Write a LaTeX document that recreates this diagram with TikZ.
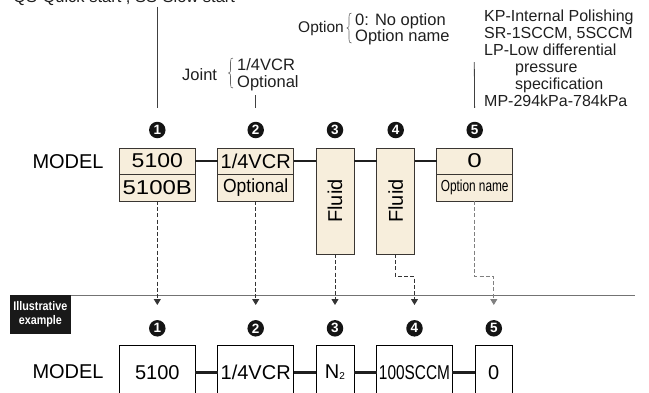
\documentclass[tikz,border=0pt]{standalone}
\usepackage{fontspec}
\usepackage{graphicx}
\setmainfont{Liberation Sans}
\usetikzlibrary{arrows.meta}
\definecolor{boxfill}{HTML}{F7EEDC}
\definecolor{boxline}{HTML}{3A3632}
\newcommand{\fsz}[1]{\fontsize{#1}{#1}\selectfont}
\begin{document}
\begin{tikzpicture}[x=1pt,y=-1pt,
  topbox/.style={draw=boxline, fill=boxfill, line width=0.9pt, inner sep=0pt, outer sep=0pt, minimum width=76pt, font=\fsz{20}},
  botbox/.style={draw=black, line width=0.9pt, inner sep=0pt, outer sep=0pt, minimum width=76pt, minimum height=55pt, font=\fsz{20}},
  link/.style={line width=2.5pt, draw=black!88},
  num/.style={circle, fill=black!92, text=white, inner sep=0pt, minimum size=16.5pt, font=\fsz{13.5}\bfseries},
  dline/.style={dash pattern=on 4pt off 2.2pt, line width=0.9pt, draw=black!80},
  arr/.style={-{Triangle[width=7pt,length=6pt]}},
  annline/.style={draw=black!75, line width=0.8pt},
  bracel/.style={draw=black!60, line width=0.6pt},
  ann/.style={inner sep=0pt, font=\fsz{16.5}, text=black!88},
  model/.style={inner sep=0pt, font=\fsz{20}, anchor=west}
]
\useasboundingbox (0,0) rectangle (649,392);

% ---------- top annotations ----------
\node[ann, anchor=base west] (qs) at (13,2.8) {QS-Quick start , SS-Slow start};
\node[ann, anchor=west] (joint) at (182,75) {Joint};
\draw[bracel] (233,58) .. controls (231,58) and (230.5,59) .. (230.5,62) -- (230.5,70) .. controls (230.5,72) .. (228.5,73) .. controls (230.5,74) .. (230.5,76) -- (230.5,84) .. controls (230.5,87) and (231,88) .. (233,88);
\node[ann, anchor=north west, align=left, font=\fontsize{16.5}{17.5}\selectfont] (jopt) at (237,58) {1/4VCR\\Optional};

\node[ann, anchor=west, font=\fsz{15.5}] (opt) at (298,28) {Option};
\draw[bracel] (351.5,13) .. controls (349.5,13) and (349,14) .. (349,17) -- (349,25) .. controls (349,27) .. (347,28) .. controls (349,29) .. (349,31) -- (349,39) .. controls (349,42) and (349.5,43) .. (351.5,43);
\node[ann, anchor=north west, align=left, font=\fontsize{16.5}{16}\selectfont] (optv) at (355,13.5) {0: No option\\Option name};

\node[ann, anchor=north west, align=left, font=\fontsize{16}{17}\selectfont] (kp) at (484,9.3)
  {KP-Internal Polishing\\SR-1SCCM, 5SCCM\\LP-Low differential\\\hspace*{31pt}pressure\\\hspace*{31pt}specification\\MP-294kPa-784kPa};

% ---------- top row ----------
\node[model] (M1) at (32.3,162) {MODEL};
\node[topbox, minimum height=26pt] (b1a) at (157.3,161) {\scalebox{1.15}[1]{5100}};
\node[topbox, minimum height=27pt] (b1b) at (157.3,187.5) {\scalebox{1.2}[1]{5100B}};
\node[topbox, minimum height=26pt] (b2a) at (255.7,161) {1/4VCR};
\node[topbox, minimum height=27pt] (b2b) at (255.7,187.5) {\fsz{19}\scalebox{0.92}[1]{Optional}};
\node[topbox, minimum width=38pt, minimum height=106pt] (b3) at (335,201) {\rotatebox{90}{Fluid}};
\node[topbox, minimum width=38pt, minimum height=106pt] (b4) at (395.7,201) {\rotatebox{90}{Fluid}};
\node[topbox, minimum height=26pt] (b5a) at (474.7,161) {\scalebox{1.3}[1]{0}};
\node[topbox, minimum height=27pt] (b5b) at (474.7,187.5) {\fsz{16}\scalebox{0.74}[1]{Option name}};

\draw[link] (b1a.east) -- (b2a.west);
\draw[link] (b2a.east) -- (b2a.east -| b3.west);
\draw[link] (b3.east |- b2a.east) -- (b4.west |- b2a.east);
\draw[link] (b4.east |- b5a.west) -- (b5a.west);

\node[num] (n1) at (157.3,130) {1};
\node[num] (n2) at (255.7,130) {2};
\node[num] (n3) at (335,130) {3};
\node[num] (n4) at (395.7,130) {4};
\node[num] (n5) at (474.7,130) {5};

\coordinate (q1) at (157.3,6.7);
\coordinate (q2) at (255.7,95);
\coordinate (q5) at (474.3,62);
\draw[annline, shorten >=13.7pt] (q1) -- (n1.north);
\draw[annline, shorten >=13.7pt] (q2) -- (n2.north);
\draw[annline, shorten >=13.7pt] (q5) -- (n5.north);

% ---------- separator ----------
\node[fill=black!90, minimum width=60.7pt, minimum height=39.3pt, inner sep=0pt, outer sep=0pt,
      text=white, align=center, font=\fontsize{12.5}{14}\selectfont\bfseries] (ill) at (40.35,314.65) {\scalebox{0.86}[1]{Illustrative}\\\scalebox{0.86}[1]{example}};
\coordinate (sepend) at (635,295.7);
\draw[line width=1.2pt, draw=black!55] (ill.north east |- sepend) -- (sepend);

% ---------- dashed arrows ----------
\coordinate (t1) at (157.3,305);
\coordinate (t2) at (255.7,305);
\coordinate (t3) at (335,305);
\coordinate (t4) at (414.5,305);
\coordinate (t5) at (493.8,305);
\draw[dline, arr] (b1b.south) -- (t1);
\draw[dline, arr] (b2b.south) -- (t2);
\draw[dline, arr] (b3.south) -- (t3);
\draw[dline, arr] (b4.south) -- ++(0,22.7) -| (t4);
\draw[dline, arr, draw=black!50] (b5b.south) -- ++(0,75.7) -| (t5);

% ---------- bottom row ----------
\node[num] (m1) at (157.3,328.3) {1};
\node[num] (m2) at (255.7,328.3) {2};
\node[num] (m3) at (335,328.3) {3};
\node[num] (m4) at (414.5,328.3) {4};
\node[num] (m5) at (493.8,328.3) {5};

\node[model] (M2) at (32.3,372) {MODEL};
\node[botbox] (c1) at (157.3,372.5) {5100};
\node[botbox] (c2) at (255.7,372.5) {1/4VCR};
\node[botbox, minimum width=38pt] (c3) at (335,372.5) {N\raisebox{-1pt}{\fsz{10}2}};
\node[botbox, minimum width=75.6pt] (c4) at (414.5,372.5) {\scalebox{0.77}[1]{100SCCM}};
\node[botbox, minimum width=37.7pt] (c5) at (493.8,372.5) {0};

\draw[link] (c1.east) -- (c2.west);
\draw[link] (c2.east) -- (c3.west);
\draw[link] (c3.east) -- (c4.west);
\draw[link] (c4.east) -- (c5.west);
\end{tikzpicture}
\end{document}
